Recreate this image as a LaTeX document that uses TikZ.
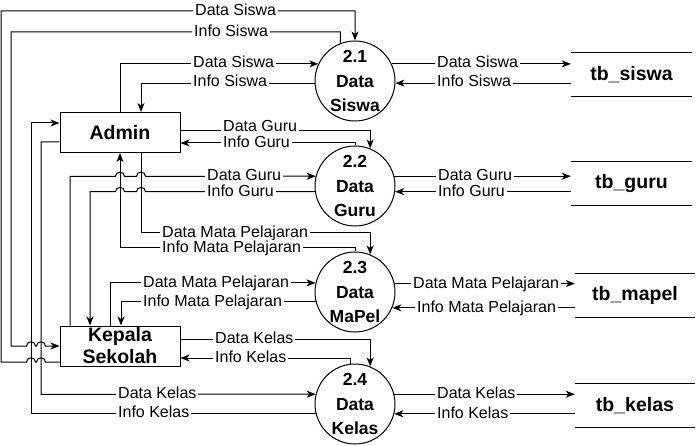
\documentclass[tikz,border=0pt]{standalone}
\usepackage{fontspec}
\setmainfont{Liberation Sans}
\usetikzlibrary{arrows.meta}

\newcommand\jumpR[2]{-- ({#1-4.5},#2) .. controls ({#1-4.5},{#2-5.5}) and ({#1+4.5},{#2-5.5}) .. ({#1+4.5},#2)}
\newcommand\jumpL[2]{-- ({#1+4.5},#2) .. controls ({#1+4.5},{#2-5.5}) and ({#1-4.5},{#2-5.5}) .. ({#1-4.5},#2)}

\tikzset{
  flow/.style={draw, line width=1pt, -{Stealth[length=9pt,width=7pt,inset=2.5pt]}},
  plain/.style={draw, line width=1pt},
  lbl/.style={fill=white, font=\fontsize{16}{19}\selectfont, inner xsep=2pt, inner ysep=0pt,
              text height=12pt, text depth=3pt, anchor=west},
  proc/.style={circle, draw, line width=1pt, minimum size=80pt, inner sep=0pt},
  ptext/.style={align=center, inner sep=0pt, font=\bfseries\fontsize{17.5}{24.5}\selectfont},
  ent/.style={rectangle, draw, line width=1pt, minimum width=120pt, minimum height=40pt,
              inner sep=0pt, font=\bfseries\fontsize{19.5}{22}\selectfont},
  etext/.style={align=center, inner sep=0pt, font=\bfseries\fontsize{19.5}{22}\selectfont},
  store/.style={minimum height=44pt, inner sep=0pt, font=\bfseries\fontsize{19.5}{23}\selectfont},
}

\begin{document}
\begin{tikzpicture}[x=1pt,y=-1pt]
\useasboundingbox (0,0) rectangle (696,446);

% entities
\node[ent] (admin) at (120,132.5) {Admin};
\node[ent, label={[etext]center:{Kepala\\Sekolah}}] (kepala) at (120,346) {};

% processes
\node[proc, label={[ptext]center:{2.1\\Data\\Siswa}}] (c21) at (355,81) {};
\node[proc, label={[ptext]center:{2.2\\Data\\Guru}}] (c22) at (355,186) {};
\node[proc, label={[ptext]center:{2.3\\Data\\MaPel}}] (c23) at (355,292) {};
\node[proc, label={[ptext]center:{2.4\\Data\\Kelas}}] (c24) at (355,404) {};

% data stores
\node[store, minimum width=121pt] (s1) at (631.5,74.3) {tb\_siswa};
\node[store, minimum width=121pt] (s2) at (631.5,183.7) {tb\_guru};
\node[store, minimum width=120pt] (s3) at (635,295.3) {tb\_mapel};
\node[store, minimum width=120pt] (s4) at (635,405.3) {tb\_kelas};
\foreach \s in {s1,s2,s3,s4}{
  \draw[plain] (\s.north west) -- (\s.north east) (\s.south west) -- (\s.south east);
}

% ---- 2.1 Data Siswa
\draw[flow] (kepala.west |- 0,362) \jumpL{41}{362} \jumpL{31}{362} -- (1,362) -- (1,11) -| (c21.north);
\draw[flow] (c21.111) |- (11,32) -- (11,346) \jumpR{31}{346} \jumpR{41}{346} -- (kepala.west |- 0,346);
\draw[flow] (admin.north) |- (c21.155);
\draw[flow] (c21.183) -| (admin.north -| 141,0);
\draw[flow] (c21.25) -- (c21.25 -| s1.west);
\draw[flow] (c21.-3 -| s1.west) -- (c21.-3);

% ---- 2.2 Data Guru
\draw[flow] (admin.east |- 0,131) -| (c22.68);
\draw[flow] (c22.north) |- (admin.east |- 0,143);
\draw[flow] (kepala.north -| 70,0) -- (70,176.3) \jumpR{120}{176.3} \jumpR{141}{176.3} -- (c22.166);
\draw[flow] (c22.188) \jumpL{141}{191.6} \jumpL{120}{191.6} -- (90,191.6) -- (kepala.north -| 90,0);
\draw[flow] (c22.14) -- (c22.14 -| s2.west);
\draw[flow] (c22.-8 -| s2.west) -- (c22.-8);

% ---- 2.3 Data MaPel
\draw[flow] (admin.south -| 141,0) -- (141,233) -| (c23.68);
\draw[flow] (c23.north) |- (120,248) -- (admin.south);
\draw[flow] (kepala.north -| 110,0) |- (c23.167);
\draw[flow] (c23.194) -| (kepala.north -| 121,0);
\draw[flow] (c23.12) -- (c23.12 -| s3.west);
\draw[flow] (c23.-23 -| s3.west) -- (c23.-23);

% ---- 2.4 Data Kelas
\draw[flow] (kepala.east |- 0,339) -| (c24.68);
\draw[flow] (c24.96) |- (kepala.east |- 0,358);
\draw[flow] (admin.west |- 0,142) -| (41,394.3) -- (c24.166);
\draw[flow] (c24.193) -| (31,123) -- (admin.west |- 0,123);
\draw[flow] (c24.14) -- (c24.14 -| s4.west);
\draw[flow] (c24.-14 -| s4.west) -- (c24.-14);

% ---- labels
\node[lbl] (l1) at (193,11) {Data Siswa};
\node[lbl] (l2) at (192,32) {Info Siswa};
\node[lbl] (l3) at (191,63.1) {Data Siswa};
\node[lbl] (l4) at (191,82.1) {Info Siswa};
\node[lbl] (l5) at (221,127.3) {Data Guru};
\node[lbl] (l6) at (221,143) {Info Guru};
\node[lbl] (l7) at (205,176.3) {Data Guru};
\node[lbl] (l8) at (205,191.6) {Info Guru};
\node[lbl] (l9) at (160,233) {Data Mata Pelajaran};
\node[lbl] (l10) at (160,248) {Info Mata Pelajaran};
\node[lbl] (l11) at (141,283) {Data Mata Pelajaran};
\node[lbl] (l12) at (141,301.7) {Info Mata Pelajaran};
\node[lbl] (l13) at (213,339) {Data Kelas};
\node[lbl] (l14) at (213,358) {Info Kelas};
\node[lbl] (l15) at (116,394.3) {Data Kelas};
\node[lbl] (l16) at (116,413) {Info Kelas};
\node[lbl] (r1) at (435,63.1) {Data Siswa};
\node[lbl] (r2) at (435,82.1) {Info Siswa};
\node[lbl] (r3) at (436,176.3) {Data Guru};
\node[lbl] (r4) at (436,191.6) {Info Guru};
\node[lbl] (r5) at (411,283.7) {Data Mata Pelajaran};
\node[lbl] (r6) at (415,307.6) {Info Mata Pelajaran};
\node[lbl] (r7) at (435,394.3) {Data Kelas};
\node[lbl] (r8) at (435,413.7) {Info Kelas};
\end{tikzpicture}
\end{document}
